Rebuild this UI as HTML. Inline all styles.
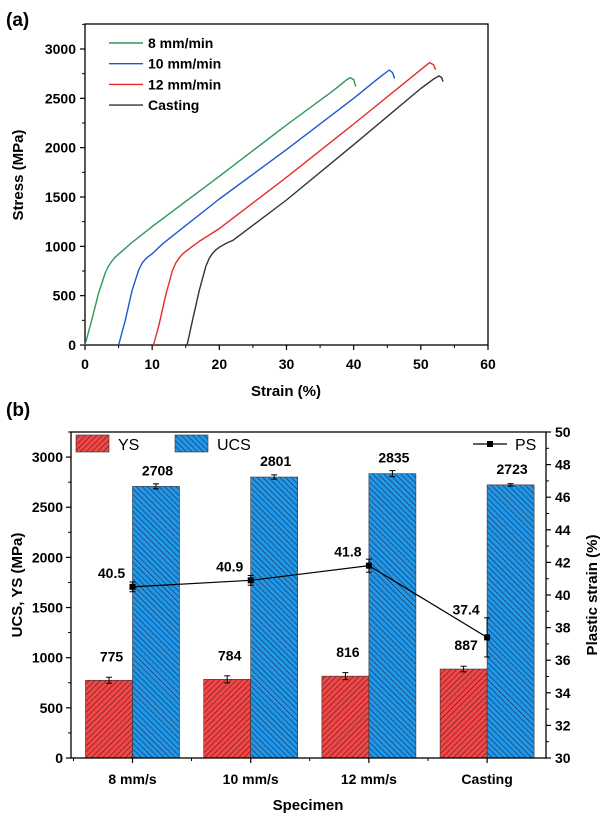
<!DOCTYPE html>
<html><head><meta charset="utf-8"><style>
body{margin:0;background:#fff;font-family:"Liberation Sans",Arial,sans-serif}
svg text{font-family:"Liberation Sans",Arial,sans-serif}
</style></head><body>
<svg id="fig" width="600" height="818" xmlns="http://www.w3.org/2000/svg">
<defs>
<pattern id="hatchR" width="4" height="4" patternUnits="userSpaceOnUse" patternTransform="rotate(45)">
<rect width="4" height="4" fill="#f04848"/><line x1="0" y1="0" x2="0" y2="4" stroke="#5a1010" stroke-width="1.1"/></pattern>
<pattern id="hatchB" width="4" height="4" patternUnits="userSpaceOnUse" patternTransform="rotate(-45)">
<rect width="4" height="4" fill="#2496e6"/><line x1="0" y1="0" x2="0" y2="4" stroke="#0a2a50" stroke-width="1.1"/></pattern>
</defs>
<g id="a"></g><g id="b"></g>
</svg>
<script>
// ---------- Panel (a) data ----------
const seriesNames = ["8 mm/min","10 mm/min","12 mm/min","Casting"];
const strain8 = [0,1,2,3,3.5,4,4.5,5,6,7,10,20,30,37,39,39.5,40,40.3];
const stress8 = [0,250,520,730,800,850,890,920,980,1040,1200,1710,2230,2580,2690,2710,2690,2620];
const strain10 = [5,6,7,8,8.5,9,9.5,10,11,12,20,30,40,44,45.3,45.8,46.1];
const stress10 = [0,250,550,760,830,870,900,925,990,1050,1480,1980,2500,2720,2787,2760,2700];
const strain12 = [10.2,11,12,13,13.5,14,14.5,15,16,17,20,30,40,50,51.3,51.9,52.2];
const stress12 = [0,200,500,750,830,880,920,950,1000,1050,1180,1700,2240,2790,2862,2840,2790];
const strainC = [15.2,16,17,18,18.5,19,19.5,20,21,22,30,40,50,52,52.7,53.1,53.3];
const stressC = [0,250,550,800,880,930,965,990,1030,1060,1470,2030,2600,2700,2727,2710,2670];
const xTicksA = [0,10,20,30,40,50,60];
const yTicksA = [0,500,1000,1500,2000,2500,3000];
// ---------- Panel (b) data ----------
const categories = ["8 mm/s","10 mm/s","12 mm/s","Casting"];
const ysValues = [775,784,816,887];
const ysErr = [30,35,35,28];
const ucsValues = [2708,2801,2835,2723];
const ucsErr = [25,22,30,12];
const psValues = [40.5,40.9,41.8,37.4];
const psErr = [0.3,0.3,0.4,1.2];
const yTicksB = [0,500,1000,1500,2000,2500,3000];
const y2TicksB = [30,32,34,36,38,40,42,44,46,48,50];

const NS="http://www.w3.org/2000/svg";
function mk(parent,tag,attrs,txt){const e=document.createElementNS(NS,tag);for(const k in attrs)e.setAttribute(k,attrs[k]);if(txt!==undefined)e.textContent=txt;parent.appendChild(e);return e;}

// ===== Panel A =====
const A=document.getElementById('a');
const ax=v=>85+(v/60)*403, ay=v=>345-(v/3000)*296;
const axTop=24;
let t=mk(A,'text',{x:6,y:26,'font-size':19,'font-weight':'bold'},'(a)');

let fr=mk(A,'rect',{x:85,y:axTop,width:403,height:345-axTop,fill:'none',stroke:'#000','stroke-width':1.3});

xTicksA.forEach((v,i)=>{
  mk(A,'line',{x1:ax(v),x2:ax(v),y1:345,y2:350,stroke:'#000','stroke-width':1.2});
  if(i<xTicksA.length-1) mk(A,'line',{x1:ax(v+5),x2:ax(v+5),y1:345,y2:348,stroke:'#000'});
  const l=mk(A,'text',{x:ax(v),y:369,'font-size':14,'font-weight':'bold','text-anchor':'middle'},v);
  
});
yTicksA.forEach((v,i)=>{
  mk(A,'line',{x1:80,x2:85,y1:ay(v),y2:ay(v),stroke:'#000','stroke-width':1.2});
  mk(A,'line',{x1:82,x2:85,y1:ay(v+250),y2:ay(v+250),stroke:'#000'});
  const l=mk(A,'text',{x:76,y:ay(v)+5,'font-size':14,'font-weight':'bold','text-anchor':'end'},v);
  
});
t=mk(A,'text',{x:286,y:396,'font-size':15,'font-weight':'bold','text-anchor':'middle'},'Strain (%)');

t=mk(A,'text',{x:0,y:0,'font-size':15,'font-weight':'bold','text-anchor':'middle',transform:'translate(23,175) rotate(-90)'},'Stress (MPa)');

const colors=['#2a9a5a','#1a5ad0','#e82a2a','#333333'];
const xs=[strain8,strain10,strain12,strainC], ys=[stress8,stress10,stress12,stressC];
xs.forEach((sx,k)=>{
  const d=sx.map((v,i)=>(i?'L':'M')+ax(v).toFixed(1)+','+ay(ys[k][i]).toFixed(1)).join('');
  const p=mk(A,'path',{d:d,fill:'none',stroke:colors[k],'stroke-width':1.4,'stroke-linejoin':'round'});
  
  const ly=43+k*20.7;
  const ll=mk(A,'line',{x1:109,x2:143,y1:ly,y2:ly,stroke:colors[k],'stroke-width':1.4});
  
  const lt=mk(A,'text',{x:148,y:ly+5,'font-size':14,'font-weight':'bold'},seriesNames[k]);
  
});

// ===== Panel B =====
const B=document.getElementById('b');
const bx0=71,bx1=546,by0=758,byT=432;
const by=v=>by0-(v/3250)*(by0-byT);
const by2=v=>by0-((v-30)/20)*(by0-byT);
const cx=i=>132.5+i*118.2;
t=mk(B,'text',{x:6,y:416,'font-size':19,'font-weight':'bold'},'(b)');

categories.forEach((c,i)=>{
  const r1=mk(B,'rect',{x:cx(i)-47,y:by(ysValues[i]),width:47,height:by0-by(ysValues[i]),fill:'url(#hatchR)',stroke:'#333','stroke-width':0.6});
  
  const r2=mk(B,'rect',{x:cx(i),y:by(ucsValues[i]),width:47,height:by0-by(ucsValues[i]),fill:'url(#hatchB)',stroke:'#333','stroke-width':0.6});
  
  [[cx(i)-23.5,ysValues[i],ysErr[i]],[cx(i)+23.5,ucsValues[i],ucsErr[i]]].forEach(([x,v,e])=>{
    mk(B,'line',{x1:x,x2:x,y1:by(v+e),y2:by(v-e),stroke:'#000'});
    mk(B,'line',{x1:x-3,x2:x+3,y1:by(v+e),y2:by(v+e),stroke:'#000'});
    mk(B,'line',{x1:x-3,x2:x+3,y1:by(v-e),y2:by(v-e),stroke:'#000'});
  });
  let l=mk(B,'text',{x:cx(i)-21,y:by(ysValues[i])-19,'font-size':14,'font-weight':'bold','text-anchor':'middle'},ysValues[i]);
  
  l=mk(B,'text',{x:cx(i)+25,y:by(ucsValues[i])-11,'font-size':14,'font-weight':'bold','text-anchor':'middle'},ucsValues[i]);
  
  l=mk(B,'text',{x:cx(i),y:784,'font-size':14,'font-weight':'bold','text-anchor':'middle'},c);
  
  mk(B,'line',{x1:cx(i),x2:cx(i),y1:by0,y2:by0+5,stroke:'#000','stroke-width':1.2});
  if(i<3) mk(B,'line',{x1:cx(i)+59,x2:cx(i)+59,y1:by0,y2:by0+3,stroke:'#000'});
});
mk(B,'line',{x1:cx(0)-59,x2:cx(0)-59,y1:by0,y2:by0+3,stroke:'#000'});
const psd=psValues.map((v,i)=>(i?'L':'M')+cx(i)+','+by2(v)).join('');
let pl=mk(B,'path',{d:psd,fill:'none',stroke:'#000','stroke-width':1.2});

psValues.forEach((v,i)=>{
  const x=cx(i);
  mk(B,'line',{x1:x,x2:x,y1:by2(v+psErr[i]),y2:by2(v-psErr[i]),stroke:'#000'});
  mk(B,'line',{x1:x-3,x2:x+3,y1:by2(v+psErr[i]),y2:by2(v+psErr[i]),stroke:'#000'});
  mk(B,'line',{x1:x-3,x2:x+3,y1:by2(v-psErr[i]),y2:by2(v-psErr[i]),stroke:'#000'});
  const m=mk(B,'rect',{x:x-3,y:by2(v)-3,width:6,height:6,fill:'#000'});
  
  const l=mk(B,'text',{x:x-21,y:by2(v)-(i==3?23:9),'font-size':14,'font-weight':'bold','text-anchor':'middle'},v.toFixed(1));
  
});
fr=mk(B,'rect',{x:bx0,y:byT,width:bx1-bx0,height:by0-byT,fill:'none',stroke:'#000','stroke-width':1.3});

yTicksB.forEach(v=>{
  mk(B,'line',{x1:bx0-5,x2:bx0,y1:by(v),y2:by(v),stroke:'#000','stroke-width':1.2});
  mk(B,'line',{x1:bx0-3,x2:bx0,y1:by(v+250),y2:by(v+250),stroke:'#000'});
  const l=mk(B,'text',{x:bx0-8,y:by(v)+5,'font-size':14,'font-weight':'bold','text-anchor':'end'},v);
  
});
y2TicksB.forEach((v,i)=>{
  mk(B,'line',{x1:bx1,x2:bx1+5,y1:by2(v),y2:by2(v),stroke:'#000','stroke-width':1.2});
  if(i<y2TicksB.length-1) mk(B,'line',{x1:bx1,x2:bx1+3,y1:by2(v+1),y2:by2(v+1),stroke:'#000'});
  const l=mk(B,'text',{x:bx1+9,y:by2(v)+5,'font-size':14,'font-weight':'bold'},v);
  
});
t=mk(B,'text',{x:308,y:810,'font-size':15,'font-weight':'bold','text-anchor':'middle'},'Specimen');

t=mk(B,'text',{x:0,y:0,'font-size':15,'font-weight':'bold','text-anchor':'middle',transform:'translate(22,585) rotate(-90)'},'UCS, YS (MPa)');

t=mk(B,'text',{x:0,y:0,'font-size':15,'font-weight':'bold','text-anchor':'middle',transform:'translate(597,595) rotate(-90)'},'Plastic strain (%)');

// legend
let s=mk(B,'rect',{x:76,y:435,width:33,height:17,fill:'url(#hatchR)',stroke:'#333','stroke-width':0.6});

t=mk(B,'text',{x:118,y:450,'font-size':16},'YS');
s=mk(B,'rect',{x:175,y:435,width:33,height:17,fill:'url(#hatchB)',stroke:'#333','stroke-width':0.6});

t=mk(B,'text',{x:217,y:450,'font-size':16},'UCS');
mk(B,'line',{x1:473,x2:507,y1:444,y2:444,stroke:'#000','stroke-width':1.2});
mk(B,'rect',{x:487,y:441,width:6,height:6,fill:'#000'});
t=mk(B,'text',{x:515,y:450,'font-size':16},'PS');
</script>
</body></html>
